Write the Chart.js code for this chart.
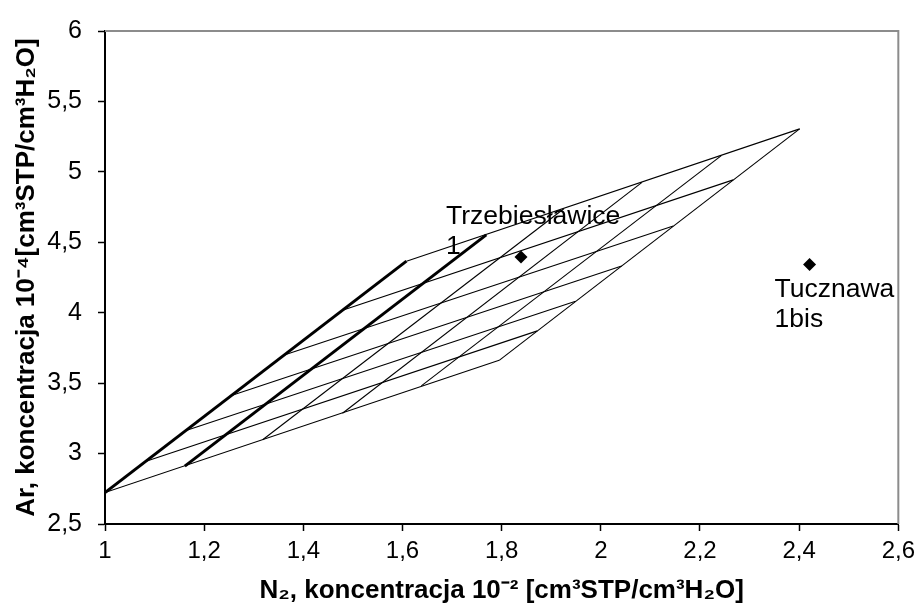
<!DOCTYPE html>
<html>
<head>
<meta charset="utf-8">
<script src="https://cdn.jsdelivr.net/npm/chart.js@4"></script>
<style>
  html, body { margin: 0; padding: 0; background: #fff; }
  #wrap { width: 921px; height: 609px; position: relative; }
</style>
</head>
<body>
<div id="wrap"><canvas id="c" width="921" height="609"></canvas></div>
<script>
// ---- Data ----
// Lines of constant excess air (steep): lower end / upper end
const eaLowN2  = [1.00, 1.161, 1.318, 1.479, 1.638, 1.795];
const eaLowAr  = [2.723, 2.911, 3.098, 3.286, 3.481, 3.662];
const eaHighN2 = [1.608, 1.769, 1.926, 2.083, 2.243, 2.401];
const eaHighAr = [4.366, 4.553, 4.740, 4.925, 5.115, 5.305];
const eaThick  = [true, true, false, false, false, false];

// Lines of constant temperature (shallow): left end / right end
const tLeftN2  = [1.00, 1.083, 1.162, 1.255, 1.360, 1.479, 1.608];
const tLeftAr  = [2.723, 2.946, 3.162, 3.413, 3.698, 4.018, 4.366];
const tRightN2 = [1.795, 1.872, 1.949, 2.042, 2.146, 2.267, 2.401];
const tRightAr = [3.662, 3.871, 4.082, 4.332, 4.616, 4.943, 5.305];

// Samples
const sampleNames = [["Trzebiesławice", "1"], ["Tucznawa", "1bis"]];
const sampleN2 = [1.839, 2.421];
const sampleAr = [4.395, 4.342];

// Axis ticks
const xTickLabels = ["1", "1,2", "1,4", "1,6", "1,8", "2", "2,2", "2,4", "2,6"];
const yTickLabels = ["2,5", "3", "3,5", "4", "4,5", "5", "5,5", "6"];

const FONT = "'Liberation Sans', Arial, Helvetica, sans-serif";

const datasets = [];
for (let i = 0; i < eaLowN2.length; i++) {
  datasets.push({
    data: [{x: eaLowN2[i], y: eaLowAr[i]}, {x: eaHighN2[i], y: eaHighAr[i]}],
    showLine: true, borderColor: '#000', borderWidth: eaThick[i] ? 3 : 1.1,
    pointRadius: 0, fill: false
  });
}
for (let i = 0; i < tLeftN2.length; i++) {
  datasets.push({
    data: [{x: tLeftN2[i], y: tLeftAr[i]}, {x: tRightN2[i], y: tRightAr[i]}],
    showLine: true, borderColor: '#000', borderWidth: 1.1,
    pointRadius: 0, fill: false
  });
}
datasets.push({
  data: sampleN2.map((v, i) => ({x: v, y: sampleAr[i]})),
  showLine: false, pointStyle: 'rectRot', pointRadius: 6.5,
  backgroundColor: '#000', borderColor: '#000', borderWidth: 0
});

// label offsets (px) relative to the sample marker
const labelOffsets = [{dx: -75, dy: -33}, {dx: -35, dy: 32}];

const framePlugin = {
  id: 'frame',
  beforeDatasetsDraw(chart) {
    const {ctx, chartArea: a} = chart;
    ctx.save();
    ctx.strokeStyle = '#8c8c8c';
    ctx.lineWidth = 2;
    ctx.beginPath();
    ctx.moveTo(a.left, a.top);
    ctx.lineTo(a.right, a.top);
    ctx.lineTo(a.right, a.bottom);
    ctx.stroke();
    ctx.restore();
  },
  afterDatasetsDraw(chart) {
    const {ctx, scales} = chart;
    ctx.save();
    ctx.fillStyle = '#000';
    ctx.font = '26.5px ' + FONT;
    ctx.textAlign = 'left';
    ctx.textBaseline = 'alphabetic';
    sampleNames.forEach((lines, i) => {
      const px = scales.x.getPixelForValue(sampleN2[i]);
      const py = scales.y.getPixelForValue(sampleAr[i]);
      lines.forEach((t, j) => {
        ctx.fillText(t, px + labelOffsets[i].dx, py + labelOffsets[i].dy + j * 30);
      });
    });
    ctx.restore();
  }
};

new Chart(document.getElementById('c'), {
  type: 'scatter',
  data: { datasets },
  options: {
    responsive: false,
    animation: false,
    layout: { padding: { top: 21, right: 21, left: 0, bottom: 0 } },
    plugins: { legend: { display: false }, tooltip: { enabled: false } },
    scales: {
      x: {
        type: 'linear', min: 1, max: 2.6,
        ticks: {
          stepSize: 0.2, color: '#000', padding: 6,
          font: { family: FONT, size: 24 },
          callback: (v, i) => xTickLabels[i]
        },
        grid: { display: true, drawOnChartArea: false, drawTicks: true, tickLength: 7, color: '#000', tickWidth: 1.5 },
        border: { display: true, color: '#000', width: 2 },
        title: {
          display: true,
          text: 'N₂, koncentracja 10⁻² [cm³STP/cm³H₂O]',
          color: '#000',
          font: { family: FONT, size: 26, weight: 'bold' },
          padding: { top: 0, bottom: 3 }
        },
        afterFit: s => { s.height = 85; }
      },
      y: {
        type: 'linear', min: 2.5, max: 6,
        ticks: {
          stepSize: 0.5, color: '#000', padding: 16,
          font: { family: FONT, size: 25 },
          callback: (v, i) => yTickLabels[i]
        },
        grid: { display: true, drawOnChartArea: false, drawTicks: true, tickLength: 7, color: '#000', tickWidth: 1.5 },
        border: { display: true, color: '#000', width: 2 },
        title: {
          display: true,
          text: 'Ar, koncentracja 10⁻⁴[cm³STP/cm³H₂O]',
          color: '#000',
          font: { family: FONT, size: 26, weight: 'bold' },
          padding: { top: 11, bottom: 0 }
        },
        afterFit: s => { s.width = 105; }
      }
    }
  },
  plugins: [framePlugin]
});
</script>
</body>
</html>
